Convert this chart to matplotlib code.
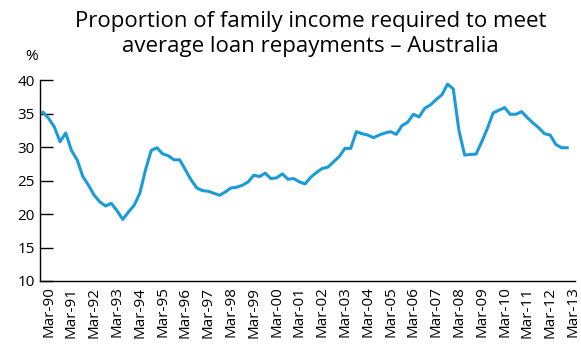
import matplotlib
matplotlib.use('Agg')
import matplotlib.pyplot as plt
import numpy as np

plt.rcParams['font.family'] = ['Open Sans', 'DejaVu Sans']

TITLE = 'Proportion of family income required to meet\naverage loan repayments \u2013 Australia'
YEARS = ['90', '91', '92', '93', '94', '95', '96', '97', '98', '99', '00', '01',
         '02', '03', '04', '05', '06', '07', '08', '09', '10', '11', '12', '13']
tick_labels = ['Mar-' + y for y in YEARS]

# quarterly values, Mar-90 .. Mar-13
share = [
  35.2, 34.3, 33.0, 30.8, 32.1, 29.5, 28.1, 25.6, 24.3, 22.8,
  21.8, 21.2, 21.6, 20.5, 19.2, 20.3, 21.3, 23.1, 26.6, 29.5,
  29.9, 29.0, 28.7, 28.1, 28.1, 26.6, 25.1, 23.9, 23.5, 23.4,
  23.1, 22.8, 23.3, 23.9, 24.0, 24.3, 24.8, 25.8, 25.6, 26.1,
  25.3, 25.4, 26.0, 25.2, 25.3, 24.8, 24.5, 25.5, 26.2, 26.8,
  27.0, 27.8, 28.6, 29.8, 29.8, 32.3, 32.0, 31.8, 31.4, 31.8,
  32.1, 32.3, 31.9, 33.2, 33.7, 34.9, 34.5, 35.8, 36.3, 37.1,
  37.8, 39.4, 38.7, 32.5, 28.8, 28.9, 28.95, 30.8, 32.8, 35.1,
  35.5, 35.9, 34.9, 34.9, 35.3, 34.4, 33.6, 32.9, 32.0, 31.8,
  30.4, 29.9, 29.9,
]

fig = plt.figure(figsize=(5.81, 3.53), dpi=100)
ax = fig.add_axes([0.069, 0.204, 0.921, 0.569])
x = np.arange(len(share))
ax.plot(x, share, color='#1b9bd7', lw=2.2, solid_joinstyle='round')

ax.set_ylim(10, 40)
ax.set_yticks(np.arange(10, 41, 5))
ax.set_xlim(-0.5, 93.4)
ax.set_xticks(np.arange(len(YEARS)) * 4 + 1.0)
ax.set_xticklabels(tick_labels, rotation=90, fontsize=11)
ax.tick_params(axis='x', length=0, pad=4)
ax.tick_params(axis='y', direction='in', length=9.5, width=1, labelsize=11, pad=4)
for s in ['top', 'right']:
  ax.spines[s].set_visible(False)
for s in ['left', 'bottom']:
  ax.spines[s].set_linewidth(1)

fig.text(0.534, 0.968, TITLE, ha='center', va='top', fontsize=16, linespacing=1.22)
fig.text(0.055, 0.84, '%', ha='center', va='center', fontsize=11)

plt.savefig('out.png', dpi=100)
